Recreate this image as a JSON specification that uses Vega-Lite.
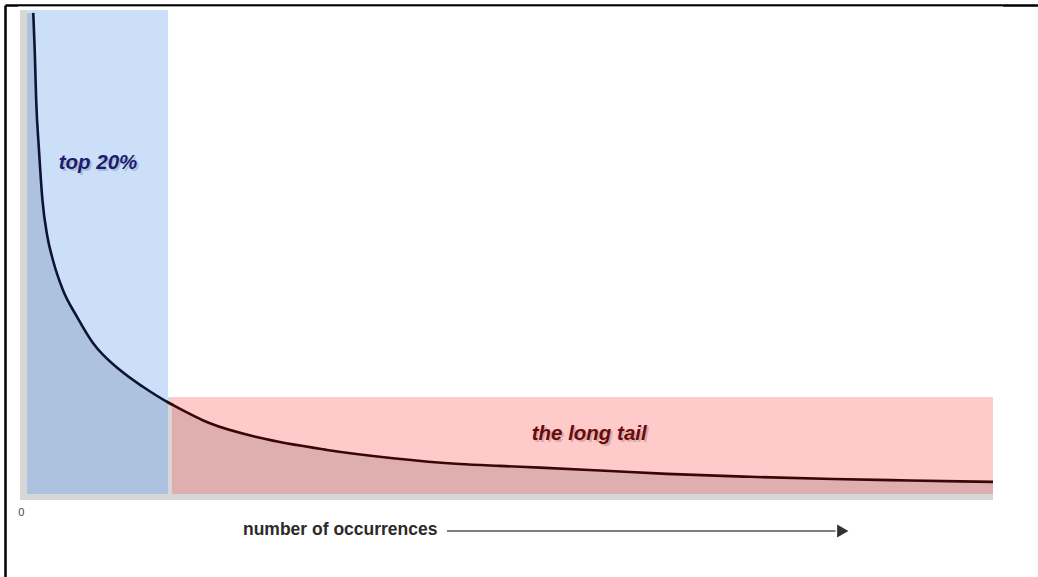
{
  "$schema": "https://vega.github.io/schema/vega-lite/v6.json",
  "width": 1033,
  "height": 572,
  "autosize": {"type": "none"},
  "padding": {"left": 5, "top": 5, "right": 0, "bottom": 0},
  "background": "white",
  "config": {"view": {"stroke": null, "fill": "white"}},
  "datasets": {
    "curve": [
      {"rank": 0, "freq": 99.4},
      {"rank": 0.65, "freq": 99.4},
      {"rank": 0.8, "freq": 91.7},
      {"rank": 0.95, "freq": 81.4},
      {"rank": 1.24, "freq": 71.1},
      {"rank": 1.6, "freq": 60.7},
      {"rank": 2.1, "freq": 53.3},
      {"rank": 2.69, "freq": 48.3},
      {"rank": 3.73, "freq": 42.1},
      {"rank": 5.18, "freq": 36.6},
      {"rank": 6.83, "freq": 31.2},
      {"rank": 9.63, "freq": 25.6},
      {"rank": 12.04, "freq": 22.1},
      {"rank": 14.46, "freq": 19.1},
      {"rank": 14.6, "freq": 18.95},
      {"rank": 15.0, "freq": 18.5},
      {"rank": 15.14, "freq": 18.35},
      {"rank": 18.94, "freq": 14.6},
      {"rank": 24.12, "freq": 11.6},
      {"rank": 31.06, "freq": 9.1},
      {"rank": 37.89, "freq": 7.4},
      {"rank": 44.82, "freq": 6.2},
      {"rank": 48.96, "freq": 5.8},
      {"rank": 53.11, "freq": 5.45},
      {"rank": 59.32, "freq": 4.85},
      {"rank": 66.25, "freq": 4.15},
      {"rank": 74.84, "freq": 3.55},
      {"rank": 83.44, "freq": 3.1},
      {"rank": 91.41, "freq": 2.8},
      {"rank": 100, "freq": 2.5}
    ],
    "boxes": [
      {"part": "top", "rank": 0, "rank2": 14.6, "freq": 0, "freq2": 100},
      {"part": "tail", "rank": 15, "rank2": 100, "freq": 0, "freq2": 20}
    ],
    "shadows": [
      {"part": "top", "rank": -0.72, "rank2": 14.6, "freq": -1.24, "freq2": 100},
      {"part": "tail", "rank": 14.3, "rank2": 100, "freq": -1.24, "freq2": 20}
    ]
  },
  "encoding": {
    "x": {"field": "rank", "type": "quantitative", "scale": {"domain": [-2.277, 104.66], "nice": false, "zero": false},
      "axis": {"orient": "top", "domain": true, "domainColor": "#000000", "domainWidth": 2.5, "ticks": false, "labels": false, "grid": false, "title": null}},
    "y": {"field": "freq", "type": "quantitative", "scale": {"domain": [-17.15, 101.03], "nice": false, "zero": false},
      "axis": {"orient": "left", "domain": true, "domainColor": "#000000", "domainWidth": 2.5, "ticks": false, "labels": false, "grid": false, "title": null}}
  },
  "layer": [
    {
      "data": {"name": "shadows"},
      "mark": {"type": "rect", "color": "#d7d7d7"},
      "encoding": {"x2": {"field": "rank2"}, "y2": {"field": "freq2"}}
    },
    {
      "data": {"name": "boxes"},
      "transform": [{"filter": {"field": "part", "equal": "top"}}],
      "mark": {"type": "rect", "color": "#cbdff9"},
      "encoding": {"x2": {"field": "rank2"}, "y2": {"field": "freq2"}}
    },
    {
      "data": {"name": "boxes"},
      "transform": [{"filter": {"field": "part", "equal": "tail"}}],
      "mark": {"type": "rect", "color": "#ffcaca"},
      "encoding": {"x2": {"field": "rank2"}, "y2": {"field": "freq2"}}
    },
    {
      "data": {"name": "curve"},
      "transform": [{"filter": {"field": "rank", "range": [0, 14.6]}}],
      "mark": {"type": "area", "color": "#adc2df", "interpolate": "monotone"},
      "encoding": {"y2": {"datum": 0}}
    },
    {
      "data": {"name": "curve"},
      "transform": [{"filter": {"field": "rank", "range": [15, 100]}}],
      "mark": {"type": "area", "color": "#dfafaf", "interpolate": "monotone"},
      "encoding": {"y2": {"datum": 0}}
    },
    {
      "data": {"name": "curve"},
      "transform": [{"filter": {"field": "rank", "range": [0.6, 15.2]}}],
      "mark": {"type": "line", "color": "#0b1436", "strokeWidth": 2.6, "interpolate": "monotone"},
      "encoding": {}
    },
    {
      "data": {"name": "curve"},
      "transform": [{"filter": {"field": "rank", "range": [14.4, 100]}}],
      "mark": {"type": "line", "color": "#3b0606", "strokeWidth": 2.6, "interpolate": "monotone"},
      "encoding": {}
    },
    {
      "data": {"values": [{"rank": -0.93, "rank2": 101.04, "freq": 100.72}]},
      "mark": {"type": "rule", "color": "#a8a8a8", "strokeWidth": 1},
      "encoding": {"x2": {"field": "rank2"}}
    },
    {
      "data": {"values": [{"rank": 7.55, "freq": 68.0, "label": "top 20%"}, {"rank": 58.4, "freq": 12.0, "label": "the long tail"}]},
      "mark": {"type": "text", "font": "Liberation Sans", "fontSize": 20.5, "fontWeight": "bold", "fontStyle": "italic", "color": "#000000", "opacity": 0.15, "align": "center", "baseline": "middle"},
      "encoding": {"text": {"field": "label"}}
    },
    {
      "data": {"values": [{"rank": 7.35, "freq": 68.4, "label": "top 20%"}]},
      "mark": {"type": "text", "font": "Liberation Sans", "fontSize": 20.5, "fontWeight": "bold", "fontStyle": "italic", "color": "#1c1c70", "align": "center", "baseline": "middle"},
      "encoding": {"text": {"field": "label"}}
    },
    {
      "data": {"values": [{"rank": 58.2, "freq": 12.4, "label": "the long tail"}]},
      "mark": {"type": "text", "font": "Liberation Sans", "fontSize": 20.5, "fontWeight": "bold", "fontStyle": "italic", "color": "#6a0a0a", "align": "center", "baseline": "middle"},
      "encoding": {"text": {"field": "label"}}
    },
    {
      "data": {"values": [{"rank": -0.6, "freq": -3.93, "label": "0"}]},
      "mark": {"type": "text", "font": "Liberation Sans", "fontSize": 11, "color": "#444444", "align": "center", "baseline": "middle"},
      "encoding": {"text": {"field": "label"}}
    },
    {
      "data": {"values": [{"rank": 22.36, "freq": -7.4, "label": "number of occurrences"}]},
      "mark": {"type": "text", "font": "Liberation Sans", "fontSize": 17.5, "fontWeight": "bold", "color": "#2b2b2b", "align": "left", "baseline": "middle"},
      "encoding": {"text": {"field": "label"}}
    },
    {
      "data": {"values": [{"rank": 43.48, "rank2": 83.7, "freq": -7.64}]},
      "mark": {"type": "rule", "color": "#555555", "strokeWidth": 1.5},
      "encoding": {"x2": {"field": "rank2"}}
    },
    {
      "data": {"values": [{"rank": 84.45, "freq": -7.64}]},
      "mark": {"type": "point", "shape": "triangle-right", "filled": true, "color": "#333333", "opacity": 1, "size": 170},
      "encoding": {}
    }
  ]
}
